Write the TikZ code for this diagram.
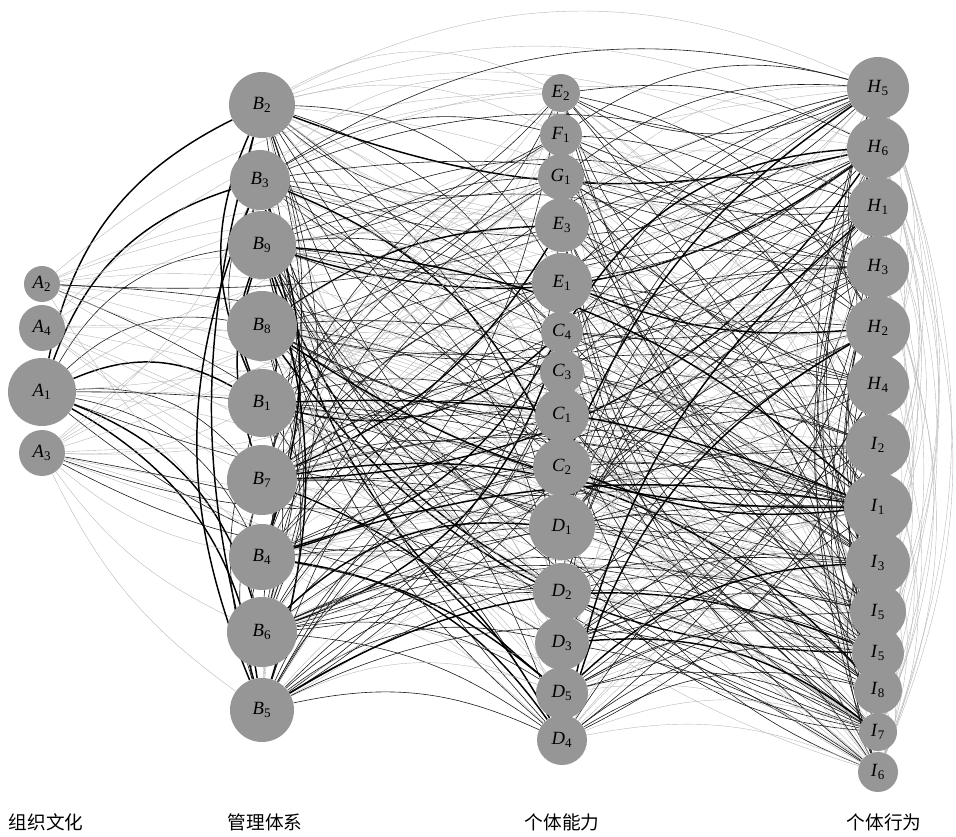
\documentclass[tikz,border=0pt]{standalone}
\usepackage{fontspec}
\setmainfont{Liberation Serif}
\newfontfamily\cjk{Noto Sans CJK SC}
\usetikzlibrary{backgrounds}
\definecolor{nodegray}{RGB}{150,150,150}
\newcommand{\vl}[2]{\textit{#1}\textsubscript{#2}}

\begin{document}
\begin{tikzpicture}[
    x=0.75pt, y=-0.75pt,
    vert/.style={circle, fill=nodegray, inner sep=0pt, minimum size=#1*1.5pt, font=\fontsize{14}{14}\selectfont},
    e0/.style={draw=none},
    e1/.style={draw=black!28, line width=0.3pt},
    e2/.style={draw=black!90, line width=0.45pt},
    e3/.style={draw=black, line width=1.1pt},
    group/.style={font=\cjk\fontsize{14}{14}\selectfont}
]
    \useasboundingbox (0,0) rectangle (956,837);
    \pgfmathsetseed{12}

    % Organisational culture
    \node[vert=18] (a2) at (42,284) {\vl{A}{2}};
    \node[vert=23] (a4) at (42,328) {\vl{A}{4}};
    \node[vert=34] (a1) at (42,392) {\vl{A}{1}};
    \node[vert=23] (a3) at (42,453) {\vl{A}{3}};

    % Management system
    \node[vert=33] (b2) at (262,105) {\vl{B}{2}};
    \node[vert=30] (b3) at (260,180) {\vl{B}{3}};
    \node[vert=34] (b9) at (262,245) {\vl{B}{9}};
    \node[vert=35] (b8) at (262,326) {\vl{B}{8}};
    \node[vert=34] (b1) at (262,403) {\vl{B}{1}};
    \node[vert=35] (b7) at (262,480) {\vl{B}{7}};
    \node[vert=33] (b4) at (262,557) {\vl{B}{4}};
    \node[vert=35] (b6) at (262,632) {\vl{B}{6}};
    \node[vert=32] (b5) at (262,710) {\vl{B}{5}};

    % Individual ability
    \node[vert=19] (e2) at (561,93) {\vl{E}{2}};
    \node[vert=21] (f1) at (561,135) {\vl{F}{1}};
    \node[vert=23] (g1) at (561,177) {\vl{G}{1}};
    \node[vert=27] (e3) at (562,225) {\vl{E}{3}};
    \node[vert=30] (e1) at (562,283) {\vl{E}{1}};
    \node[vert=21] (c4) at (562,332) {\vl{C}{4}};
    \node[vert=22] (c3) at (562,372) {\vl{C}{3}};
    \node[vert=27] (c1) at (562,415) {\vl{C}{1}};
    \node[vert=29] (c2) at (562,467) {\vl{C}{2}};
    \node[vert=33] (d1) at (562,527) {\vl{D}{1}};
    \node[vert=29] (d2) at (562,592) {\vl{D}{2}};
    \node[vert=27] (d3) at (562,643) {\vl{D}{3}};
    \node[vert=26] (d5) at (562,693) {\vl{D}{5}};
    \node[vert=25] (d4) at (562,740) {\vl{D}{4}};

    % Individual behaviour
    \node[vert=31] (h5) at (878,88) {\vl{H}{5}};
    \node[vert=31] (h6) at (878,148) {\vl{H}{6}};
    \node[vert=30] (h1) at (878,207) {\vl{H}{1}};
    \node[vert=31] (h3) at (878,267) {\vl{H}{3}};
    \node[vert=32] (h2) at (878,328) {\vl{H}{2}};
    \node[vert=31] (h4) at (878,385) {\vl{H}{4}};
    \node[vert=32] (i2) at (878,445) {\vl{I}{2}};
    \node[vert=34] (i1) at (878,507) {\vl{I}{1}};
    \node[vert=32] (i3) at (878,563) {\vl{I}{3}};
    \node[vert=28] (i5) at (878,612) {\vl{I}{5}};
    \node[vert=26] (i5b) at (878,653) {\vl{I}{5}};
    \node[vert=24] (i8) at (878,690) {\vl{I}{8}};
    \node[vert=19] (i7) at (878,732) {\vl{I}{7}};
    \node[vert=20] (i6) at (878,772) {\vl{I}{6}};

    % Column titles
    \node[group] (ta) at (46,822) {组织文化};
    \node[group] (tb) at (265,822) {管理体系};
    \node[group] (tc) at (562,822) {个体能力};
    \node[group] (td) at (884,822) {个体行为};

    % node lists with their heights
    \def\Bs{b2/105,b3/180,b9/245,b8/326,b1/403,b7/480,b4/557,b6/632,b5/710}
    \def\Cs{e2/93,f1/135,g1/177,e3/225,e1/283,c4/332,c3/372,c1/415,c2/467,d1/527,d2/592,d3/643,d5/693,d4/740}
    \def\Hs{h5/88,h6/148,h1/207,h3/267,h2/328,h4/385,i2/445,i1/507,i3/563,i5/612,i5b/653,i8/690,i7/732,i6/772}

    \begin{scope}[on background layer]
    \clip (0,0) rectangle (956,795);

    % A1 fans out to the management system
    \foreach \v/\vy in \Bs {
        \pgfmathtruncatemacro\w{rnd<0.5 ? 3 : 2}
        \draw[e\w] (a1) to[bend left=26] (\v);
    }
    % other culture links
    \foreach \u in {a1,a2,a4,a3} {
        \foreach \v in {e2,e3,e1,c4,c1,c2,d1,d2,d3,d5,d4,h5,h1,h2,i2,i1,i3,i5,i8,i6} {
            \pgfmathsetmacro\r{rnd}
            \pgfmathtruncatemacro\w{\r<0.1 ? 2 : (\r<0.55 ? 1 : 0)}
            \pgfmathsetmacro\ang{(random(0,1)*2-1)*(10+12*rnd)}
            \draw[e\w] (\u) to[bend left=\ang] (\v);
        }
    }
    \foreach \v in {b3,b1,b4,b6,b5}
        \draw[e1] (a3) to[bend right=14] (\v);

    % management system to ability and behaviour
    \foreach \u/\uy in \Bs {
        \foreach \v/\vy in \Cs {
            \pgfmathsetmacro\r{rnd}
            \pgfmathtruncatemacro\w{\r<0.1 ? 3 : (\r<0.5 ? 2 : (\r<0.85 ? 1 : 0))}
            \pgfmathsetmacro\up{(\uy+\vy)/2 > 560 ? 0.97 : 0.5}
            \pgfmathsetmacro\ang{(rnd<\up ? 1 : -1)*(14+16*rnd)}
            \draw[e\w] (\u) to[bend left=\ang] (\v);
        }
        \foreach \v/\vy in \Hs {
            \pgfmathsetmacro\r{rnd}
            \pgfmathtruncatemacro\w{\r<0.05 ? 3 : (\r<0.42 ? 2 : (\r<0.8 ? 1 : 0))}
            \pgfmathsetmacro\up{(\uy+\vy)/2 > 500 ? 0.97 : ((\uy+\vy)/2 < 160 ? 0.3 : 0.5)}
            \pgfmathsetmacro\ang{(rnd<\up ? 1 : -1)*(14+16*rnd)}
            \draw[e\w] (\u) to[bend left=\ang] (\v);
        }
    }

    % long arcs over the top
    \foreach \u in {b2,b3} {
        \foreach \v in {h5,h6,h1} {
            \pgfmathtruncatemacro\w{rnd<0.6 ? 2 : 1}
            \draw[e\w] (\u) to[bend left=22+6*rnd] (\v);
        }
    }

    % ability to behaviour
    \foreach \u/\uy in \Cs {
        \foreach \v/\vy in \Hs {
            \pgfmathsetmacro\r{rnd}
            \pgfmathtruncatemacro\w{\r<0.04 ? 3 : (\r<0.45 ? 2 : (\r<0.85 ? 1 : 0))}
            \pgfmathsetmacro\up{(\uy+\vy)/2 > 580 ? 0.97 : 0.5}
            \pgfmathsetmacro\ang{(rnd<\up ? 1 : -1)*(12+16*rnd)}
            \draw[e\w] (\u) to[bend left=\ang] (\v);
        }
    }

    % heavy links into I1
    \foreach \u in {b9,b8,b1,b7,b4,b6,e1,c4,c2,d1,d2,d3} {
        \pgfmathtruncatemacro\w{rnd<0.6 ? 3 : 2}
        \pgfmathsetmacro\ang{(random(0,1)*2-1)*(10+10*rnd)}
        \draw[e\w] (\u) to[bend left=\ang] (i1);
    }

    % links inside the management system
    \foreach \u/\uy [count=\i] in \Bs {
        \foreach \v/\vy [count=\j] in \Bs {
            \ifnum\j>\i
                \pgfmathsetmacro\r{rnd}
                \pgfmathtruncatemacro\w{\r<0.25 ? 3 : (\r<0.8 ? 2 : 0)}
                \pgfmathsetmacro\ang{(random(0,1)*2-1)*(14+10*rnd)}
                \draw[e\w] (\u) to[bend left=\ang] (\v);
            \fi
        }
    }

    % links inside individual behaviour
    \foreach \u/\uy [count=\i] in \Hs {
        \foreach \v/\vy [count=\j] in \Hs {
            \ifnum\j>\i
                \pgfmathsetmacro\r{rnd}
                \pgfmathtruncatemacro\w{\r<0.5 ? 1 : 0}
                \draw[e\w] (\u) to[bend left=16+8*rnd] (\v);
                \pgfmathsetmacro\r{rnd}
                \pgfmathtruncatemacro\w{\r<0.25 ? 2 : 0}
                \draw[e\w] (\u) to[bend right=14+8*rnd] (\v);
            \fi
        }
    }
    \end{scope}

\end{tikzpicture}
\end{document}
